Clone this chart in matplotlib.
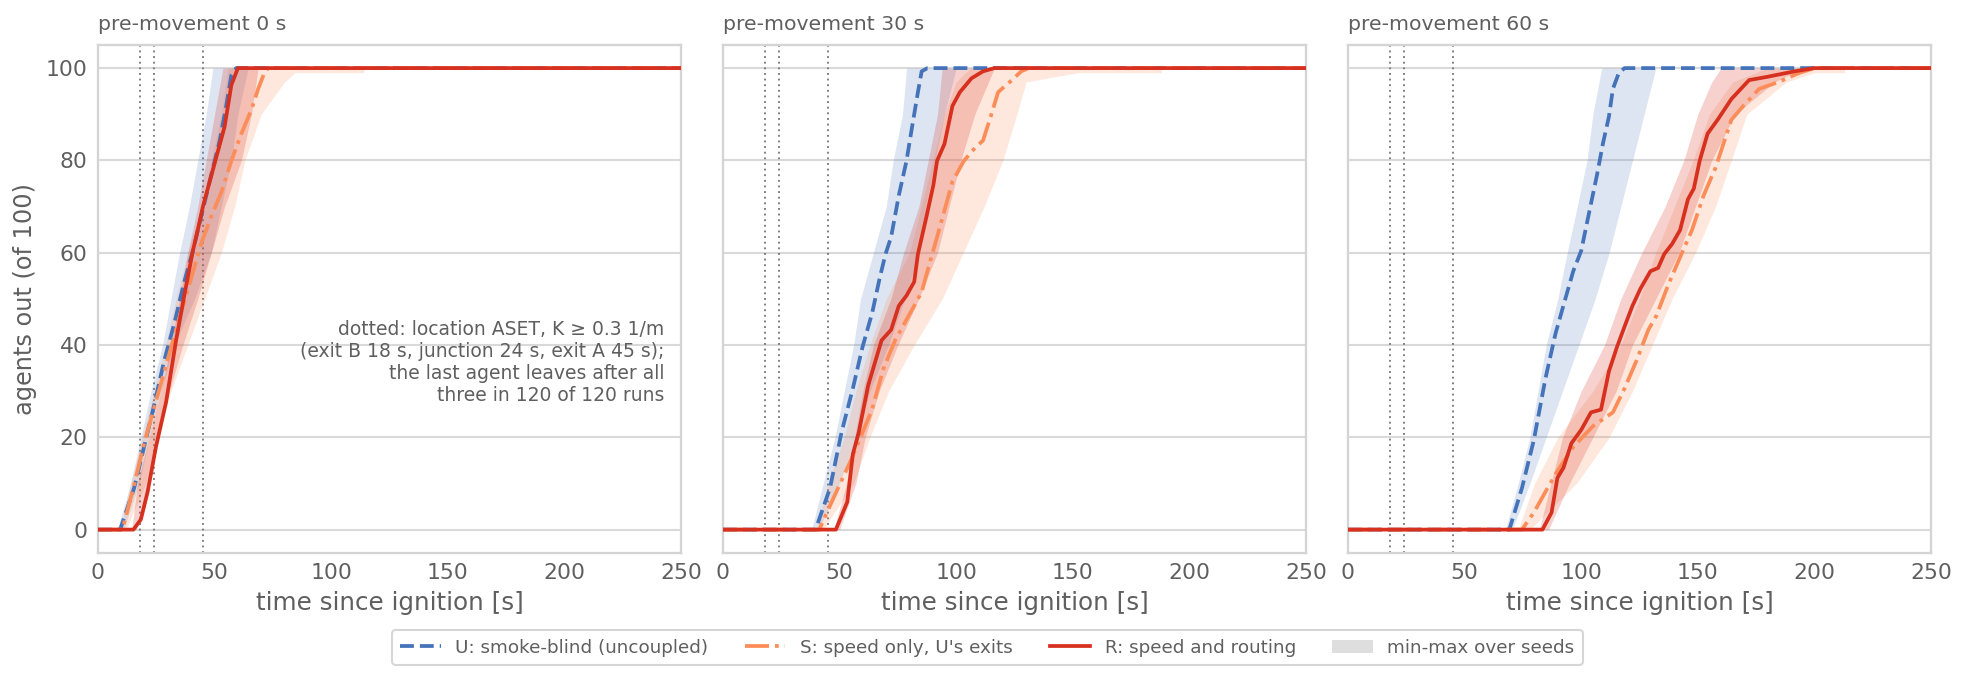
import matplotlib
matplotlib.use("Agg")
import matplotlib.pyplot as plt
from matplotlib.lines import Line2D
from matplotlib.patches import Patch

# ---------------- data ----------------
PANEL_TITLES = ["pre-movement 0 s", "pre-movement 30 s", "pre-movement 60 s"]
ASET_TIMES = [18, 24, 45]
X_TICKS = [0, 50, 100, 150, 200, 250]
Y_TICKS = [0, 20, 40, 60, 80, 100]
SERIES_LABELS = ["U: smoke-blind (uncoupled)", "S: speed only, U's exits",
                 "R: speed and routing", "min-max over seeds"]
NOTE = ("dotted: location ASET, K \u2265 0.3 1/m\n"
        "(exit B 18 s, junction 24 s, exit A 45 s);\n"
        "the last agent leaves after all\n"
        "three in 120 of 120 runs")

# panel 1: pre-movement 0 s  (time [s], agents out)
U0_t = [0, 9.5, 15.5, 19.8, 24.1, 28.4, 32.8, 37.0, 40.7, 45.0, 48.6, 52.2, 55.0, 57.2, 59.3, 250]
U0_y = [0, 0, 9, 18, 27, 36.6, 44.8, 53.7, 60.4, 69.4, 76.9, 84.3, 91.8, 98.5, 100, 100]
S0_t = [0, 10.5, 15.5, 19.8, 25.6, 30.6, 35.6, 40.0, 44.3, 48.6, 52.9, 57.2, 61.5, 65.8, 68.7, 71.6, 73.0, 250]
S0_y = [0, 0, 9.7, 18.7, 29.1, 38.1, 47, 54.5, 62, 67.9, 73.1, 79.9, 85.8, 91, 95.5, 99.3, 100, 100]
R0_t = [0, 15.2, 18.4, 21.3, 24.9, 29.2, 33.5, 37.0, 40.7, 42.8, 45.0, 47.1, 50.7, 54.3, 57.2, 60.0, 250]
R0_y = [0, 0, 2.2, 8.2, 18, 27.6, 41, 50.7, 60.4, 64.9, 70, 73.9, 80.6, 87.3, 96.3, 100, 100]

U0_band_y = [0, 10, 20, 30, 40, 50, 60, 70, 80, 90, 100]
U0_lo = [8.3, 14, 18.4, 22.7, 27.7, 31.3, 35, 39.2, 42.8, 46.4, 49.3]
U0_hi = [11, 17.7, 22, 27, 32.8, 41.4, 48.6, 52.9, 57.2, 60, 64.4]
S0_band_y = [0, 10, 20, 30, 40, 50, 60, 70, 80, 90, 97, 99, 99, 100]
S0_lo = [9.5, 14, 19, 24, 29, 33.5, 38.5, 44.3, 48.6, 52.9, 55, 55.5, 55.5, 55.7]
S0_hi = [12, 20.5, 25.6, 31.3, 38.5, 45.7, 52.9, 58.6, 63, 70, 80, 84.5, 114, 114]
R0_band_y = [0, 10, 20, 30, 40, 50, 60, 70, 80, 90, 100]
R0_lo = [14.5, 17, 22, 27, 31.3, 35, 38.5, 42.8, 46.4, 50, 53.6]
R0_hi = [16.5, 22, 25.6, 30.6, 36.4, 42.8, 48.6, 54.3, 61.5, 65.8, 68.7]

# panel 2: pre-movement 30 s
U1_t = [0, 39.7, 45.9, 50.8, 55.7, 59.8, 64.0, 67.2, 69.7, 72.1, 75.4, 78.7, 81.1, 83.6, 85.2, 87.7, 250]
U1_y = [0, 0, 9, 21, 30.6, 39.5, 47, 54.5, 59.7, 63.4, 72.4, 79.9, 87.3, 94.8, 99.3, 100, 100]
S1_t = [0, 41.3, 45.9, 54.1, 59.0, 63.9, 68.9, 73.8, 78.7, 82.0, 85.2, 88.5, 91.8, 95.1, 98.4,
        103.3, 108.2, 111.5, 114.8, 118.0, 123.0, 127.9, 131.0, 250]
S1_y = [0, 0, 5.2, 14.2, 20, 26, 35, 41, 45.5, 48.5, 51.5, 57.5, 63.4, 69.4, 75.4,
        79.9, 82.8, 84.3, 89.5, 94.8, 97, 99.3, 100, 100]
R1_t = [0, 48.4, 53.3, 55.7, 58.2, 62.3, 68.0, 72.1, 75.4, 78.7, 82.0, 83.6, 86.9, 90.2, 91.8,
        95.0, 98.4, 101.6, 106.6, 111.5, 116.4, 250]
R1_y = [0, 0, 6, 16.4, 21, 31.3, 41, 43.3, 48.5, 50.7, 53.7, 59.7, 67, 74.6, 79.9,
        83.6, 91.8, 94.8, 97.8, 99.3, 100, 100]

U1_band_y = [0, 10, 20, 30, 40, 50, 60, 70, 80, 90, 100]
U1_lo = [38, 43, 48, 52, 56, 59, 64.5, 70, 73, 77, 78.7]
U1_hi = [41, 50, 57, 63, 71, 78, 84, 87, 91, 95, 100]
S1_band_y = [0, 10, 20, 30, 40, 50, 60, 70, 80, 90, 97, 99, 99, 100]
S1_lo = [40, 45, 52, 57, 63, 70, 80, 85, 90, 95, 100, 104, 104, 106]
S1_hi = [43, 56, 63, 71, 82, 94, 103, 112, 120, 126, 130, 152, 188, 188]
R1_band_y = [0, 10, 20, 30, 40, 50, 60, 70, 80, 90, 100]
R1_lo = [47.5, 53, 56.5, 60, 64.5, 72, 77.5, 84, 88, 92, 94]
R1_hi = [50, 57, 61, 67, 75, 84, 92, 97, 102, 108, 116.4]

# panel 3: pre-movement 60 s
U2_t = [0, 69.2, 74.6, 79.7, 84.7, 89.0, 93.2, 96.6, 100.0, 103.4, 106.8, 109.3, 111.9, 113.6, 116.1, 118.6, 250]
U2_y = [0, 0, 9, 19.4, 32.8, 42.5, 50, 56, 60.4, 68.7, 76.9, 83.6, 89.5, 95.5, 98.9, 100, 100]
S2_t = [0, 74.6, 79.7, 84.7, 89.8, 96.6, 105.0, 113.6, 118.6, 123.7, 128.8, 132.2, 137.3, 142.4,
        147.5, 152.5, 157.6, 161.0, 164.4, 169.5, 176.3, 184.7, 193.2, 200.0, 250]
S2_y = [0, 0, 3.7, 8.2, 12.7, 17.9, 22.4, 25.4, 30.6, 36.6, 43.3, 46.3, 53, 59,
        64.9, 72.4, 78.4, 83.6, 88.8, 91.8, 95.5, 97, 98.9, 100, 100]
R2_t = [0, 83.4, 87.3, 89.8, 92.4, 95.8, 100.0, 104.2, 108.5, 111.9, 115.3, 118.6, 122.0, 125.4,
        129.7, 133.0, 135.6, 139.0, 142.4, 145.8, 148.3, 150.8, 154.2, 158.5, 164.4, 172.0,
        179.7, 191.5, 200.0, 250]
R2_y = [0, 0, 3.7, 11.2, 13.4, 18.7, 21.6, 25.4, 26, 34.3, 39.5, 44, 48.5, 52.2,
        56, 56.7, 59.7, 61.9, 64.9, 71.6, 73.9, 79.9, 85.8, 88.8, 93.3, 97.4,
        98.1, 99.3, 100, 100]

U2_band_y = [0, 10, 20, 30, 40, 50, 60, 70, 80, 90, 100]
U2_lo = [67.5, 73, 78, 81.5, 85, 90, 94, 98.3, 102.5, 105, 108.8]
U2_hi = [70.5, 78, 85, 92, 99, 106, 112, 117, 122, 127, 132]
S2_band_y = [0, 10, 20, 30, 40, 50, 60, 70, 80, 90, 97, 99, 99, 100]
S2_lo = [73, 80, 90, 105, 117, 125, 132, 140, 148, 155, 165, 175, 175, 180]
S2_hi = [78, 98, 112, 122, 130.5, 139, 149, 157.6, 164.4, 171, 188, 200, 213, 213]
R2_band_y = [0, 10, 20, 30, 40, 50, 60, 70, 80, 90, 97, 100]
R2_lo = [82, 87, 92, 100, 110, 117, 126, 136, 144, 150, 156, 160]
R2_hi = [86, 95, 105, 115, 122, 132, 142, 149, 156, 166, 183, 195]

# ---------------- style ----------------
C_U = "#4473b9"
C_S = "#fc8d59"
C_R = "#d7301f"
TXT = "#5f5f5f"
GRID = "#d9d9d9"

plt.rcParams["font.family"] = ["DejaVu Sans"]
plt.rcParams["text.color"] = TXT
plt.rcParams["axes.labelcolor"] = TXT
plt.rcParams["xtick.color"] = TXT
plt.rcParams["ytick.color"] = TXT

fig = plt.figure(figsize=(1967 / 150, 674 / 150), dpi=150)
fig.subplots_adjust(left=0.0498, right=0.9817, top=0.9332, bottom=0.18, wspace=0.072)
axes = fig.subplots(1, 3, sharey=True)

lines_data = [
    ((U0_t, U0_y), (S0_t, S0_y), (R0_t, R0_y)),
    ((U1_t, U1_y), (S1_t, S1_y), (R1_t, R1_y)),
    ((U2_t, U2_y), (S2_t, S2_y), (R2_t, R2_y)),
]
bands_data = [
    ((U0_band_y, U0_lo, U0_hi), (S0_band_y, S0_lo, S0_hi), (R0_band_y, R0_lo, R0_hi)),
    ((U1_band_y, U1_lo, U1_hi), (S1_band_y, S1_lo, S1_hi), (R1_band_y, R1_lo, R1_hi)),
    ((U2_band_y, U2_lo, U2_hi), (S2_band_y, S2_lo, S2_hi), (R2_band_y, R2_lo, R2_hi)),
]
colors = [C_U, C_S, C_R]
band_alpha = [0.18, 0.20, 0.22]
styles = ["--", "-.", "-"]

for i, ax in enumerate(axes):
    ax.set_facecolor("white")
    for sp in ax.spines.values():
        sp.set_color("#d4d4d4")
        sp.set_linewidth(1.1)
    ax.grid(axis="y", color=GRID, linewidth=1.0)
    ax.grid(axis="x", visible=False)
    ax.set_axisbelow(True)
    for t in ASET_TIMES:
        ax.axvline(t, color="#7a7a7a", linestyle=(0, (1, 2)), linewidth=0.9, zorder=1)
    for (by, lo, hi), c, a in zip(bands_data[i], colors, band_alpha):
        ax.fill_betweenx(by, lo, hi, color=c, alpha=a, linewidth=0, zorder=2)
    for (t, y), c, ls in zip(lines_data[i], colors, styles):
        ax.plot(t, y, color=c, linestyle=ls, linewidth=1.8, zorder=3)
    ax.set_xlim(0, 250)
    ax.set_ylim(-5, 105)
    ax.set_xticks(X_TICKS)
    ax.set_yticks(Y_TICKS)
    ax.tick_params(length=0, labelsize=10.5, pad=5)
    ax.set_xlabel("time since ignition [s]", fontsize=11.8, labelpad=4)
    ax.set_title(PANEL_TITLES[i], loc="left", fontsize=9.8, color=TXT, pad=7)

axes[0].set_ylabel("agents out (of 100)", fontsize=11.5)
axes[0].text(0.972, 0.374, NOTE, transform=axes[0].transAxes, ha="right", va="center",
             fontsize=9.0, color=TXT, linespacing=1.2)

handles = [
    Line2D([], [], color=C_U, linestyle="--", linewidth=1.8),
    Line2D([], [], color=C_S, linestyle="-.", linewidth=1.8),
    Line2D([], [], color=C_R, linestyle="-", linewidth=1.8),
    Patch(facecolor="#dedede", edgecolor="none"),
]
leg = fig.legend(handles, SERIES_LABELS, loc="lower center", bbox_to_anchor=(0.502, 0.0),
                 ncol=4, fontsize=8.8, frameon=True, handlelength=2.2, columnspacing=2.0,
                 borderpad=0.45)
leg.get_frame().set_edgecolor("#cccccc")
for txt in leg.get_texts():
    txt.set_color(TXT)

fig.savefig("out.png", dpi=150)
